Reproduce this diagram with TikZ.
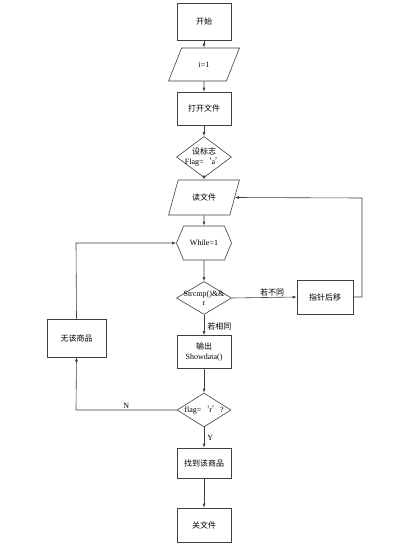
\documentclass[tikz,border=0pt]{standalone}
\usepackage{fontspec}
\setmainfont{Liberation Serif}
\newfontfamily\cjk{Noto Sans CJK SC}
\usetikzlibrary{shapes.geometric,shapes.symbols,arrows.meta}
\begin{document}
\begin{tikzpicture}[x=1pt,y=-1pt,
  font=\fontsize{8}{9.5}\selectfont,
  line/.style={draw=black!75, line width=0.6pt},
  box/.style={line, rectangle, minimum width=54pt, minimum height=33pt, inner sep=1pt, align=center},
  para/.style={line, trapezium, trapezium left angle=63, trapezium right angle=117, trapezium stretches=true, minimum width=71pt, minimum height=33pt, inner sep=1pt},
  dia/.style={line, diamond, minimum width=55pt, minimum height=41pt, inner sep=0pt},
  hexa/.style={line, signal, signal to=east and west, signal pointer angle=135, minimum width=55pt, minimum height=34pt, inner sep=1pt},
  arr/.style={line, -{Latex[length=4pt,width=3pt]}},
  lab/.style={inner sep=1pt}
]
\useasboundingbox[fill=white] (0,0) rectangle (415,546);

\node[box, minimum height=37pt] (start) at (204,21.5) {\cjk 开始};
\node[para] (init) at (204,64.5) {i=1};
\node[box] (open) at (204,108.5) {\cjk 打开文件};
\node[dia, label={[align=center, inner sep=0pt]center:{\cjk 设标志}\\Flag={\cjk ‘}a{\cjk ’}}] (setflag) at (204,157) {};
\node[para, minimum height=35pt] (read) at (204,197.5) {\cjk 读文件};
\node[hexa] (while) at (204,243) {While=1};
\node[dia, minimum height=33pt, label={[align=center, inner sep=0pt]center:Strcmp()\&\&\\r}] (cmp) at (204,298) {};
\node[box, minimum width=56pt, minimum height=34pt] (next) at (325,297) {\cjk 指针后移};
\node[box, label={[align=center, inner sep=0pt]center:{\cjk 输出}\\Showdata()}] (out) at (204,352) {};
\node[box, minimum width=59pt, minimum height=38pt] (none) at (76.5,338) {\cjk 无该商品};
\node[dia, minimum width=54pt, minimum height=34pt, label={[inner sep=0pt]center:flag={\cjk ‘}r{\cjk ’}?}] (flag) at (204,410) {};
\node[box, minimum height=30pt] (found) at (204,463) {\cjk 找到该商品};
\node[box, minimum height=34pt] (close) at (204,525) {\cjk 关文件};

\coordinate (nexttop) at (362,198);
\coordinate (noneleft) at (76,243);
\coordinate (flagleft) at (76,410);

\draw[arr] (start) -- (init);
\draw[arr] (init) -- (open);
\draw[arr] (open) -- (setflag);
\draw[arr] (setflag) -- (read);
\draw[arr] (read) -- (while);
\draw[arr] (while) -- (cmp);
\draw[arr] (cmp.east) -- node[lab, pos=0.62, above]{\cjk 若不同} (next.west);
\draw[arr] (next.east) -| (nexttop) -- (read.east);
\draw[arr] (cmp.south) -- node[lab, pos=0.55, right=2pt]{\cjk 若相同} (out.north);
\draw[arr] (out) -- (flag);
\draw[arr] (flag.west) -- node[lab, pos=0.5, above]{N} (flagleft) -- (none.south);
\draw[arr] (none.north) -- (noneleft) -- (while.west);
\draw[arr] (flag.south) -- node[lab, pos=0.5, right=2pt]{Y} (found.north);
\draw[arr] (found) -- (close);
\end{tikzpicture}
\end{document}
